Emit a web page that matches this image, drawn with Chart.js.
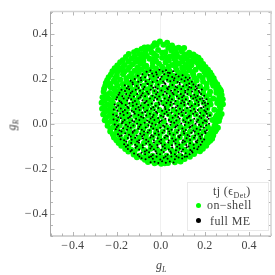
<!DOCTYPE html>
<html>
<head>
<meta charset="utf-8">
<script src="https://cdn.jsdelivr.net/npm/chart.js@4"></script>
<style>
  html, body { margin: 0; padding: 0; background: #fff; }
  #wrap { position: relative; width: 275px; height: 275px; overflow: hidden; font-family: "Liberation Serif", "Times New Roman", serif; color: #444; }
  #chart { position: absolute; left: 0; top: 0; }
  .title { position: absolute; font-style: italic; font-size: 12px; line-height: 12px; white-space: nowrap; }
  .title sub { font-size: 8px; line-height: 0; }
  #legend { position: absolute; left: 187px; top: 182px; width: 80px; height: 47px; background: #fff; border: 1px solid #e9e9e9; font-size: 12px; letter-spacing: .4px; }
  #legend div { position: absolute; white-space: nowrap; line-height: 12px; }
  #legend sub { font-size: 8px; line-height: 0; }
  #legend i { position: absolute; border-radius: 50%; }
</style>
</head>
<body>
<div id="wrap">
  <canvas id="chart" width="275" height="275"></canvas>
  <div class="title" style="left:156px;top:259px">g<sub>L</sub></div>
  <div class="title" style="left:6px;top:119px;transform:rotate(-90deg)">g<sub>R</sub></div>
  <div id="legend">
    <div style="left:25px;top:2px">tj (ϵ<sub>Det</sub>)</div>
    <i style="left:8px;top:20px;width:5px;height:5px;background:#00ff00"></i>
    <div style="left:19px;top:16px">on−shell</div>
    <i style="left:8px;top:35px;width:5px;height:5px;background:#000"></i>
    <div style="left:22px;top:32px">full ME</div>
  </div>
</div>
<script>
/* ================= DATA ================= */
const xLimits = [-0.5, 0.5];
const yLimits = [-0.5, 0.5];
const majorTicks = [-0.4, -0.2, 0, 0.2, 0.4];
const seriesNames = ['on-shell', 'full ME'];

const onShell = [
[-.027,.359],[-.004,.366],[.029,.361],[.012,.352],[-.058,.341],[-.087,.333],[-.035,.346],[.051,.349],[.081,.339],[.106,.337],
[-.121,.318],[-.097,.311],[-.069,.322],[-.041,.317],[-.012,.328],[.021,.319],[.048,.326],[.071,.314],[.096,.321],[.129,.316],[.148,.308],
[-.158,.297],[-.132,.291],[-.104,.286],[-.076,.297],[-.051,.289],[-.019,.302],[.006,.294],[.041,.299],[.062,.288],[.094,.293],[.119,.288],[.147,.286],[.171,.294],
[-.184,.274],[-.163,.262],[-.127,.265],[-.092,.267],[-.066,.258],[-.036,.272],[-.008,.267],[.022,.274],[.052,.262],[.083,.268],[.112,.262],[.139,.261],[.168,.269],[.192,.266],
[-.209,.247],[-.187,.239],[-.149,.241],[-.118,.236],[-.088,.242],[-.052,.239],[-.021,.245],[.014,.242],[.039,.236],[.071,.241],[.104,.234],[.131,.238],[.158,.241],[.187,.244],[.214,.24],
[-.226,.219],[-.199,.214],[-.171,.221],[-.141,.212],[-.107,.214],[-.074,.218],[-.043,.211],[-.012,.222],[.024,.217],[.058,.213],[.09,.216],[.121,.211],[.147,.219],[.176,.214],[.205,.219],[.231,.216],
[-.243,.194],[-.214,.189],[-.183,.196],[-.156,.187],[-.127,.191],[-.094,.193],[-.061,.187],[-.032,.194],[.004,.189],[.036,.196],[.069,.189],[.101,.192],[.134,.186],[.163,.193],[.192,.188],[.222,.196],[.246,.187],
[-.252,.168],[-.227,.163],[-.197,.169],[-.169,.161],[-.139,.167],[-.108,.161],[-.078,.169],[-.047,.162],[-.016,.168],[.018,.161],[.049,.168],[.083,.162],[.113,.169],[.145,.161],[.178,.166],[.208,.162],[.238,.169],[.263,.162],
[-.259,.143],[-.231,.137],[-.204,.144],[-.176,.136],[-.147,.141],[-.119,.136],[-.089,.144],[-.059,.138],[-.028,.142],[.003,.135],[.034,.142],[.066,.136],[.098,.144],[.129,.137],[.161,.141],[.192,.136],[.224,.143],[.252,.138],[.273,.145],
[-.264,.118],[-.238,.112],[-.211,.119],[-.183,.111],[-.156,.117],[-.128,.112],[-.099,.119],[-.069,.112],[-.038,.117],[-.009,.111],[.021,.118],[.052,.111],[.083,.119],[.114,.112],[.146,.118],[.177,.111],[.207,.119],[.238,.113],[.266,.119],[.281,.109],
[-.268,.093],[-.243,.087],[-.217,.094],[-.189,.086],[-.161,.091],[-.133,.086],[-.106,.094],[-.078,.087],[-.047,.092],[-.018,.085],[.012,.093],[.042,.087],[.073,.093],[.104,.086],[.133,.092],[.164,.087],[.194,.093],[.226,.086],[.256,.092],[.282,.087],
[-.266,.067],[-.239,.061],[-.213,.068],[-.184,.062],[-.152,.066],[-.124,.061],[-.096,.068],[-.067,.062],[-.036,.067],[-.006,.061],[.026,.067],[.057,.061],[.088,.068],[.118,.062],[.149,.067],[.181,.061],[.211,.067],[.243,.062],[.271,.068],
[-.261,.041],[-.234,.036],[-.206,.042],[-.177,.035],[-.147,.041],[-.116,.035],[-.087,.042],[-.057,.036],[-.026,.041],[.004,.035],[.036,.042],[.067,.036],[.098,.042],[.129,.035],[.159,.041],[.191,.036],[.222,.042],[.253,.036],[.276,.043],
[-.254,.016],[-.226,.011],[-.198,.017],[-.168,.01],[-.138,.016],[-.107,.011],[-.076,.017],[-.046,.01],[-.016,.016],[.014,.01],[.046,.017],[.077,.011],[.108,.016],[.139,.01],[.171,.016],[.202,.011],[.234,.017],[.264,.012],
[-.241,-.009],[-.214,-.014],[-.186,-.008],[-.157,-.015],[-.126,-.009],[-.095,-.014],[-.066,-.008],[-.036,-.015],[-.004,-.009],[.026,-.014],[.057,-.008],[.088,-.015],[.119,-.009],[.151,-.014],[.183,-.008],[.213,-.015],[.244,-.009],[.259,-.018],
[-.229,-.035],[-.201,-.04],[-.172,-.034],[-.144,-.041],[-.113,-.035],[-.083,-.04],[-.052,-.034],[-.022,-.041],[.009,-.035],[.041,-.04],[.071,-.034],[.102,-.041],[.133,-.035],[.164,-.04],[.194,-.034],[.226,-.04],[.247,-.035],
[-.212,-.061],[-.184,-.066],[-.156,-.06],[-.127,-.067],[-.097,-.061],[-.067,-.066],[-.037,-.06],[-.006,-.067],[.024,-.061],[.056,-.066],[.086,-.06],[.117,-.067],[.149,-.061],[.179,-.066],[.209,-.06],[.233,-.067],
[-.191,-.086],[-.164,-.091],[-.136,-.085],[-.107,-.092],[-.076,-.086],[-.047,-.091],[-.016,-.085],[.014,-.092],[.044,-.086],[.076,-.091],[.106,-.085],[.137,-.092],[.168,-.086],[.197,-.091],[.214,-.084],
[-.161,-.112],[-.134,-.116],[-.106,-.11],[-.076,-.117],[-.046,-.111],[-.016,-.116],[.016,-.11],[.047,-.117],[.077,-.111],[.108,-.116],[.139,-.11],[.168,-.116],[.191,-.111],
[-.123,-.137],[-.096,-.142],[-.067,-.136],[-.037,-.143],[-.006,-.137],[.026,-.142],[.056,-.136],[.087,-.143],[.119,-.137],[.151,-.135],
[-.072,-.16],[-.043,-.165],[-.012,-.159],[.019,-.166],[.049,-.16],[.082,-.164],[.108,-.157],[-.028,-.176],[.002,-.178],[.033,-.175],
// in-between points
[-.074,.34],[-.018,.352],[.068,.335],[.093,.332],[-.046,.332],[.034,.338],[-.108,.325],[-.082,.309],[-.031,.312],[.006,.316],[.059,.306],[.112,.309],[.136,.303],
[-.145,.311],[-.118,.3],[-.09,.292],[-.063,.303],[-.036,.288],[.024,.296],[.078,.298],[.106,.3],[.133,.276],[.159,.3],
[-.172,.283],[-.146,.278],[-.113,.276],[-.079,.279],[-.021,.28],[.037,.282],[.068,.276],[.098,.277],[.126,.275],[.155,.277],[.181,.282],
[-.197,.26],[-.174,.25],[-.14,.253],[-.105,.251],[-.073,.255],[-.037,.255],[.006,.254],[.035,.255],[.067,.255],[.097,.25],[.122,.25],[.173,.254],[.203,.253],
[-.219,.234],[-.198,.228],[-.165,.232],[-.132,.224],[-.1,.228],[-.067,.23],[-.034,.228],[.001,.232],[.042,.226],[.081,.228],[.112,.224],[.144,.229],[.198,.23],[.224,.228],
[-.236,.207],[-.207,.202],[-.156,.203],[-.124,.202],[-.078,.204],[-.027,.207],[.012,.205],[.046,.204],[.079,.203],[.111,.202],[.152,.205],[.19,.204],[.22,.206],[.24,.203],
[-.249,.181],[-.228,.177],[-.2,.181],[-.172,.176],[-.143,.178],[-.11,.178],[-.046,.178],[-.013,.18],[.052,.178],[.118,.178],[.15,.176],[.208,.177],[.234,.18],[.256,.176],
[-.257,.156],[-.212,.156],[-.185,.15],[-.155,.152],[-.124,.15],[-.062,.153],[.003,.15],[.036,.155],[.066,.151],[.098,.154],[.128,.152],[.194,.152],[.252,.153],[.27,.152],
[-.248,.128],[-.218,.131],[-.19,.124],[-.133,.127],[-.074,.128],[-.012,.125],[.05,.127],[.098,.13],[.161,.127],[.22,.13],[.276,.128],
[-.256,.105],[-.225,.105],[-.168,.103],[-.116,.103],[-.053,.102],[.036,.103],[.099,.102],[.162,.103],[.222,.101],[.258,.105],[.272,.1],
[-.255,.078],[-.228,.076],[-.174,.077],[-.118,.077],[-.062,.077],[.028,.078],[.088,.079],[.148,.078],[.21,.08],[.268,.077],
[-.252,.053],[-.226,.05],[-.166,.05],[-.106,.051],[-.051,.05],[.012,.05],[.073,.051],[.134,.05],[.197,.052],[.262,.054],
[-.248,.028],[-.22,.026],[-.162,.026],[-.092,.027],[-.032,.027],[.052,.027],[.114,.026],[.183,.027],[.248,.026],[.268,.028],
[-.24,.003],[-.21,.001],[-.152,0],[-.091,.002],[-.031,.001],[.062,.002],[.123,0],[.186,.002],[.249,.002],
[-.228,-.022],[-.199,-.026],[-.142,-.025],[-.08,-.024],[-.02,-.024],[.042,-.025],[.104,-.025],[.167,-.024],[.23,-.024],[.251,-.027],
[-.217,-.048],[-.187,-.05],[-.127,-.05],[-.067,-.049],[-.006,-.051],[.056,-.05],[.118,-.05],[.179,-.05],[.215,-.049],[.238,-.052],
[-.201,-.074],[-.17,-.076],[-.112,-.077],[-.052,-.076],[.008,-.077],[.071,-.076],[.132,-.077],[.193,-.076],[.224,-.076],
[-.179,-.098],[-.148,-.102],[-.091,-.101],[-.031,-.102],[.03,-.101],[.091,-.102],[.153,-.1],[.183,-.1],[.206,-.098],
[-.147,-.124],[-.12,-.126],[-.061,-.127],[0,-.126],[.062,-.127],[.123,-.127],[.156,-.125],[.178,-.123],
[-.108,-.149],[-.083,-.151],[-.056,-.15],[-.025,-.152],[.004,-.151],[.036,-.153],[.071,-.151],[.102,-.15],[.132,-.147],
[-.058,-.17],[-.013,-.172],[.018,-.176],[.064,-.171],[.09,-.168]
];

const fullME = [
[-.064,.232],[-.047,.237],[-.021,.229],[-.006,.241],[.009,.233],[.024,.238],[.041,.226],[.056,.234],
[-.104,.214],[-.083,.221],[-.071,.207],[-.055,.217],[-.033,.212],[-.018,.219],[.004,.209],[.016,.221],[.034,.214],[.052,.208],[.069,.219],[.081,.211],[.099,.216],[.113,.206],
[-.137,.191],[-.118,.199],[-.102,.187],[-.089,.194],[-.068,.189],[-.051,.198],[-.037,.186],[-.016,.193],[-.002,.199],[.011,.188],[.029,.196],[.043,.189],[.059,.194],[.076,.186],[.094,.198],[.108,.19],[.123,.196],[.141,.187],[.132,.204],
[-.163,.172],[-.147,.166],[-.126,.176],[-.109,.168],[-.091,.174],[-.074,.164],[-.058,.177],[-.043,.169],[-.024,.163],[-.011,.175],[.008,.168],[.021,.177],[.037,.165],[.053,.173],[.067,.166],[.086,.176],[.101,.167],[.117,.173],[.129,.164],[.148,.175],[.159,.166],[.171,.172],
[-.178,.151],[-.162,.146],[-.143,.154],[-.129,.144],[-.113,.151],[-.094,.147],[-.079,.155],[-.062,.143],[-.046,.152],[-.029,.146],[-.014,.156],[.003,.148],[.019,.143],[.032,.154],[.047,.147],[.064,.152],[.079,.143],[.093,.155],[.111,.147],[.124,.153],[.142,.144],[.157,.151],[.173,.146],[.186,.153],
[-.191,.129],[-.174,.123],[-.157,.132],[-.141,.126],[-.122,.121],[-.107,.133],[-.088,.127],[-.071,.122],[-.056,.134],[-.038,.125],[-.021,.131],[-.007,.121],[.011,.129],[.027,.135],[.041,.124],[.058,.131],[.073,.122],[.091,.132],[.104,.125],[.121,.133],[.136,.122],[.152,.129],[.167,.124],[.183,.132],[.197,.125],
[-.202,.108],[-.187,.101],[-.168,.112],[-.152,.104],[-.134,.109],[-.117,.101],[-.101,.113],[-.083,.105],[-.064,.101],[-.049,.112],[-.031,.104],[-.016,.11],[.002,.101],[.018,.112],[.034,.105],[.051,.109],[.067,.101],[.082,.113],[.098,.104],[.114,.109],[.131,.101],[.147,.112],[.163,.105],[.178,.11],[.194,.102],[.208,.109],
[-.209,.086],[-.193,.081],[-.176,.09],[-.159,.083],[-.143,.091],[-.126,.08],[-.109,.087],[-.091,.081],[-.074,.092],[-.057,.084],[-.041,.09],[-.023,.08],[-.006,.087],[.012,.082],[.026,.092],[.043,.083],[.059,.089],[.076,.08],[.092,.091],[.107,.084],[.124,.089],[.141,.08],[.156,.088],[.172,.083],[.189,.091],[.203,.081],[.214,.089],
[-.213,.063],[-.197,.058],[-.181,.068],[-.163,.061],[-.147,.07],[-.131,.058],[-.113,.066],[-.096,.061],[-.079,.071],[-.062,.059],[-.044,.067],[-.028,.061],[-.011,.07],[.006,.058],[.021,.066],[.038,.061],[.053,.071],[.071,.059],[.087,.067],[.102,.06],[.119,.07],[.136,.058],[.151,.066],[.168,.061],[.183,.07],[.198,.059],[.212,.066],
[-.216,.041],[-.201,.036],[-.184,.046],[-.168,.039],[-.151,.048],[-.134,.036],[-.118,.044],[-.101,.039],[-.084,.049],[-.066,.037],[-.049,.045],[-.033,.039],[-.016,.048],[.001,.036],[.017,.044],[.033,.039],[.049,.049],[.066,.037],[.082,.045],[.098,.038],[.114,.048],[.131,.036],[.147,.044],[.163,.039],[.179,.048],[.194,.037],[.209,.044],[.223,.038],
[-.214,.019],[-.198,.014],[-.181,.024],[-.164,.017],[-.148,.026],[-.129,.014],[-.112,.022],[-.097,.017],[-.079,.027],[-.061,.015],[-.046,.023],[-.029,.017],[-.012,.026],[.004,.014],[.021,.022],[.037,.017],[.054,.027],[.071,.015],[.086,.023],[.103,.016],[.119,.026],[.136,.014],[.152,.022],[.169,.017],[.184,.026],[.199,.015],[.217,.022],
[-.209,-.003],[-.193,-.008],[-.176,.002],[-.158,-.005],[-.141,.004],[-.124,-.008],[-.107,0],[-.091,-.005],[-.073,.005],[-.056,-.007],[-.039,.001],[-.023,-.005],[-.007,.004],[.011,-.008],[.027,0],[.044,-.005],[.061,.005],[.076,-.007],[.093,.001],[.109,-.006],[.126,.004],[.143,-.008],[.158,0],[.174,-.005],[.191,.004],[.206,-.007],[.219,0],
[-.204,-.025],[-.187,-.03],[-.171,-.02],[-.153,-.027],[-.136,-.018],[-.119,-.03],[-.102,-.022],[-.086,-.027],[-.068,-.017],[-.051,-.029],[-.034,-.021],[-.018,-.027],[-.002,-.018],[.016,-.03],[.032,-.022],[.049,-.027],[.066,-.017],[.081,-.029],[.098,-.021],[.114,-.028],[.131,-.018],[.148,-.03],[.163,-.022],[.179,-.027],[.196,-.018],[.209,-.029],
[-.194,-.047],[-.178,-.052],[-.161,-.042],[-.144,-.049],[-.127,-.04],[-.109,-.052],[-.093,-.044],[-.076,-.049],[-.059,-.039],[-.042,-.051],[-.026,-.043],[-.009,-.049],[.008,-.04],[.024,-.052],[.041,-.044],[.058,-.049],[.074,-.039],[.089,-.051],[.106,-.043],[.122,-.05],[.139,-.04],[.156,-.052],[.171,-.044],[.187,-.049],[.203,-.041],
[-.182,-.069],[-.166,-.074],[-.149,-.064],[-.132,-.071],[-.116,-.062],[-.098,-.074],[-.081,-.066],[-.066,-.071],[-.047,-.061],[-.031,-.073],[-.014,-.065],[.002,-.071],[.018,-.062],[.036,-.074],[.052,-.066],[.068,-.071],[.084,-.061],[.101,-.073],[.117,-.065],[.133,-.072],[.151,-.062],[.166,-.074],[.181,-.066],[.197,-.07],
[-.166,-.091],[-.149,-.096],[-.134,-.086],[-.116,-.093],[-.099,-.084],[-.082,-.096],[-.066,-.088],[-.049,-.093],[-.031,-.083],[-.016,-.095],[.001,-.087],[.018,-.093],[.034,-.084],[.051,-.096],[.067,-.088],[.084,-.093],[.099,-.083],[.116,-.095],[.133,-.087],[.149,-.094],[.164,-.084],[.181,-.093],
[-.149,-.113],[-.131,-.117],[-.114,-.107],[-.098,-.115],[-.081,-.106],[-.064,-.118],[-.047,-.11],[-.031,-.115],[-.014,-.105],[.003,-.117],[.019,-.109],[.036,-.115],[.052,-.106],[.069,-.118],[.086,-.11],[.101,-.115],[.118,-.105],[.134,-.117],[.151,-.109],[.166,-.114],
[-.121,-.133],[-.104,-.138],[-.087,-.129],[-.071,-.136],[-.053,-.127],[-.036,-.139],[-.019,-.131],[-.003,-.136],[.014,-.126],[.031,-.138],[.047,-.13],[.064,-.136],[.081,-.127],[.097,-.139],[.113,-.131],[.131,-.136],[.144,-.128],
[-.087,-.154],[-.069,-.158],[-.053,-.149],[-.036,-.156],[-.019,-.147],[-.002,-.159],[.014,-.151],[.031,-.156],[.048,-.146],[.064,-.158],[.081,-.15],[.097,-.155],[.109,-.147],
[-.046,-.172],[-.028,-.169],[-.011,-.175],[.006,-.167],[.023,-.174],[.041,-.168],[.058,-.173],
// second pass, between the rows
[-.039,.224],[.033,.227],[-.091,.205],[-.012,.206],[.062,.203],[-.128,.184],[-.061,.178],[.017,.182],[.086,.183],[.129,.179],
[-.154,.158],[-.101,.159],[-.034,.16],[.029,.158],[.074,.162],[.138,.16],[.164,.158],[-.187,.138],[-.136,.137],[-.082,.136],[-.014,.14],[.053,.138],[.111,.139],[.176,.139],
[-.198,.118],[-.146,.115],[-.093,.118],[-.026,.117],[.038,.117],[.097,.118],[.158,.117],[.189,.113],[-.18,.096],[-.127,.095],[-.069,.096],[-.009,.095],[.046,.096],[.106,.096],[.171,.097],[.2,.093],
[-.201,.073],[-.151,.076],[-.101,.074],[-.034,.074],[.019,.075],[.069,.073],[.133,.074],[.194,.075],[-.172,.053],[-.122,.052],[-.071,.052],[-.021,.053],[.027,.052],[.094,.052],[.157,.053],[.204,.053],
[-.193,.029],[-.14,.03],[-.089,.031],[-.037,.03],[.012,.031],[.079,.03],[.127,.031],[.176,.032],[.211,.03],[-.172,.009],[-.121,.009],[-.052,.008],[-.003,.01],[.047,.008],[.112,.008],[.163,.009],[.206,.011],
[-.199,-.014],[-.149,-.012],[-.097,-.013],[-.044,-.012],[.017,-.013],[.069,-.012],[.134,-.013],[.182,-.012],[-.178,-.034],[-.127,-.035],[-.076,-.035],[-.011,-.034],[.038,-.034],[.104,-.034],[.154,-.035],[.2,-.035],
[-.186,-.056],[-.136,-.057],[-.084,-.056],[-.034,-.057],[.031,-.056],[.081,-.056],[.131,-.056],[.178,-.057],[-.156,-.079],[-.107,-.079],[-.056,-.079],[-.006,-.079],[.059,-.078],[.109,-.079],[.159,-.079],[.188,-.08],
[-.158,-.102],[-.108,-.1],[-.041,-.101],[.009,-.101],[.074,-.102],[.126,-.101],[.171,-.102],[-.137,-.123],[-.072,-.124],[-.023,-.123],[.044,-.124],[.094,-.124],[.141,-.122],[-.097,-.146],[-.044,-.146],[.022,-.146],[.071,-.145],[.119,-.146]
];

/* ================= INWARD TICKS ================= */
const frameTicks = {
  id: 'frameTicks',
  afterDatasetsDraw(chart) {
    const { ctx, chartArea: a, scales: { x, y } } = chart;
    ctx.save();
    ctx.lineWidth = 1;
    for (let i = -10; i <= 10; i++) {
      const v = i * 0.05;
      const len = i % 4 === 0 ? 4 : 2.5;
      const px = Math.round(x.getPixelForValue(v)) + 0.5;
      const py = Math.round(y.getPixelForValue(v)) + 0.5;
      ctx.strokeStyle = '#b5b5b5';
      ctx.beginPath();
      ctx.moveTo(px, a.bottom); ctx.lineTo(px, a.bottom - len);
      ctx.moveTo(px, a.top); ctx.lineTo(px, a.top + len);
      ctx.moveTo(a.left, py); ctx.lineTo(a.left + len, py);
      ctx.moveTo(a.right, py); ctx.lineTo(a.right - len, py);
      ctx.stroke();
    }
    // frame
    ctx.strokeStyle = '#a8a8a8';
    ctx.beginPath();
    ctx.moveTo(a.left, a.top); ctx.lineTo(a.left, a.bottom); ctx.lineTo(a.right, a.bottom);
    ctx.stroke();
    ctx.strokeStyle = '#d4d4d4';
    ctx.lineWidth = 1.5;
    ctx.beginPath();
    ctx.moveTo(a.left, a.top); ctx.lineTo(a.right, a.top); ctx.lineTo(a.right, a.bottom);
    ctx.stroke();
    ctx.restore();
  }
};

/* ================= CHART ================= */
function tickLabel(v) {
  const r = Math.round(v * 100) / 100;
  if (!majorTicks.includes(r)) return '';
  return (r < 0 ? '−\u200a' : '') + Math.abs(r).toFixed(1);
}

function axis(limits, extra) {
  return Object.assign({
    type: 'linear',
    min: limits[0],
    max: limits[1],
    border: { display: false },
    grid: {
      drawTicks: false,
      lineWidth: 1,
      color: c => Math.abs(c.tick.value) < 1e-6 ? '#f0f0f0' : 'rgba(0,0,0,0)'
    },
    ticks: {
      stepSize: 0.05,
      autoSkip: false,
      maxRotation: 0,
      color: '#444',
      font: { family: '"Liberation Serif", "Times New Roman", serif', size: 12 },
      callback: tickLabel
    }
  }, extra);
}

const yAxis = axis(yLimits, { afterFit(s) { s.width = 50.5; } });
yAxis.ticks.padding = 3;
const xAxis = axis(xLimits, { afterFit(s) { s.height = 39; } });
xAxis.ticks.padding = 3;

new Chart(document.getElementById('chart').getContext('2d'), {
  type: 'scatter',
  data: {
    datasets: [
      // order: on-shell is painted first, full ME on top
      { label: seriesNames[1], order: 1, data: fullME.map(p => ({ x: p[0], y: p[1] })), backgroundColor: '#000', pointRadius: 1, borderWidth: 0, pointBorderWidth: 0 },
      { label: seriesNames[0], order: 2, data: onShell.map(p => ({ x: p[0], y: p[1] })), backgroundColor: '#00ff00', pointRadius: 3, borderWidth: 0, pointBorderWidth: 0 }
    ]
  },
  options: {
    responsive: false,
    animation: false,
    layout: { padding: { top: 11.5, right: 0.7 } },
    plugins: { legend: { display: false }, tooltip: { enabled: false } },
    scales: { x: xAxis, y: yAxis }
  },
  plugins: [frameTicks]
});
</script>
</body>
</html>
